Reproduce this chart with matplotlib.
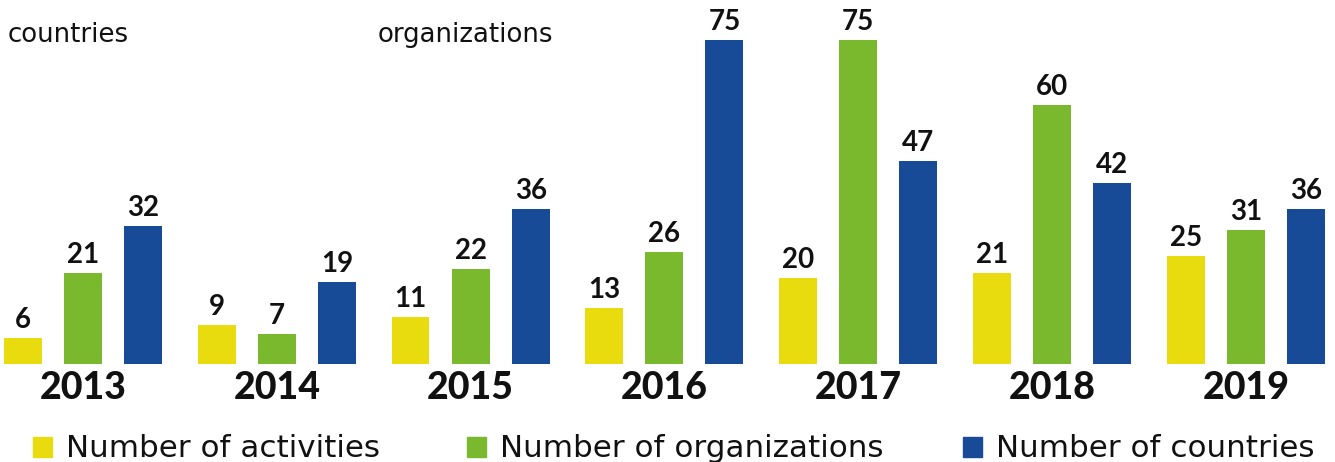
import matplotlib.pyplot as plt
from matplotlib.patches import Rectangle
import numpy as np

# --- data ---
years = ["2013", "2014", "2015", "2016", "2017", "2018", "2019"]
activities = [6, 9, 11, 13, 20, 21, 25]
organizations = [21, 7, 22, 26, 75, 60, 31]
countries = [32, 19, 36, 75, 47, 42, 36]

series_names = ["Number of activities", "Number of organizations", "Number of countries"]
colors = ["#E8DC0E", "#7AB92E", "#174B97"]

W, H = 1335, 462
plt.rcParams['font.family'] = ['Lato', 'DejaVu Sans']

fig = plt.figure(figsize=(W / 100, H / 100), dpi=100)
# baseline sits at ~364 px from top, 75 reaches ~40 px
ax = fig.add_axes([0, 98 / H, 1, 1 - 98 / H])

x = np.arange(len(years))
offset = 0.31
width = 0.196

for i, (vals, col) in enumerate(zip([activities, organizations, countries], colors)):
    bars = ax.bar(x + (i - 1) * offset, vals, width=width, color=col)
    for bar in bars:
        yval = bar.get_height()
        ax.annotate(f"{yval:d}", (bar.get_x() + bar.get_width() / 2, yval),
                    xytext=(0, 5), textcoords="offset pixels",
                    ha="center", va="bottom", fontsize=20, fontweight="bold",
                    color="#111111")

ax.set_xlim(-0.428, 6.46)
ax.set_ylim(0, 84.3)
ax.axis("off")

# year labels under each group
for xi, yr in zip(x, years):
    ax.annotate(yr, (xi, 0), xytext=(0, -7), textcoords="offset pixels",
                ha="center", va="top", fontsize=27, fontweight="black",
                color="#111111")

# stray header fragments
side_font = ['DejaVu Sans']
fig.text(8 / W, 1 - 42 / H, "countries", fontsize=18.7, color="#111111",
         ha="left", va="baseline", family=side_font)
fig.text(378 / W, 1 - 42 / H, "organizations", fontsize=18.7, color="#111111",
         ha="left", va="baseline", family=side_font)

# legend, placed item by item
legend_sq = [33, 467, 963]
for sx, name, col in zip(legend_sq, series_names, colors):
    fig.patches.append(Rectangle((sx / W, 1 - 457 / H), 19 / W, 20 / H,
                                 transform=fig.transFigure, color=col))
    fig.text((sx + 33) / W, 1 - 457 / H, name, fontsize=22.3, color="#111111",
             ha="left", va="baseline", family=side_font)

plt.savefig("out.png", dpi=100)
plt.close()
